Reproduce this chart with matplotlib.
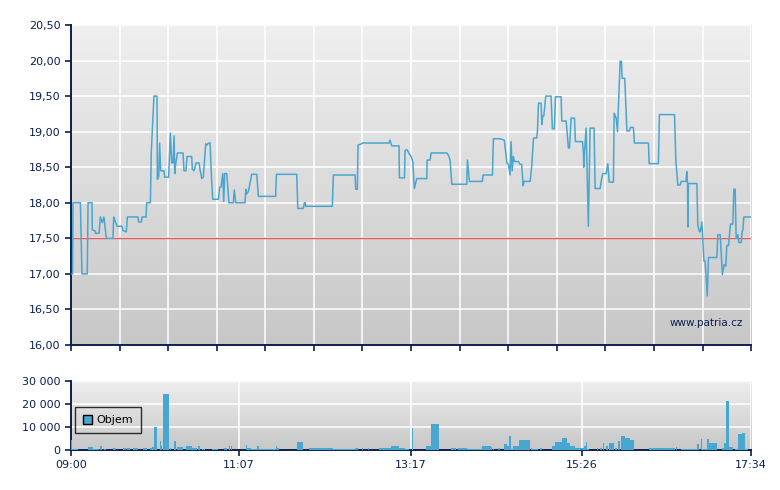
import matplotlib
matplotlib.use("Agg")
import matplotlib.pyplot as plt
import numpy as np
from matplotlib.colors import LinearSegmentedColormap
from matplotlib.patches import Patch

# intraday price, minutes after 09:00
price_t = [
    0, 1.2, 1.5, 7.1, 8.3, 12.3, 12.9, 15.9, 16.1, 18.4, 18.6, 21.2, 22.2, 23.7, 24.9, 26.7,
    31.7, 32.3, 33.0, 34.8, 35.5, 38.5, 39.3, 41.8, 42.6, 50.6, 51.1, 53.2, 53.7, 56.7, 57.2,
    60.0, 60.7, 62.7, 65.0, 65.3, 66.3, 67.0, 67.8, 70.3, 70.8, 73.8, 75.1, 76.1, 77.1, 77.9,
    78.4, 79.1, 80.4, 84.7, 85.4, 86.9, 87.7,
    91.2, 91.7, 93.0, 94.5, 96.8, 97.5, 98.8, 100.0, 101.8, 102.8, 103.8, 105.1, 106.3, 107.1,
    111.4, 112.4, 113.4, 114.7, 115.4, 116.2, 117.7, 119.4, 122.7, 123.4, 124.5, 131.5, 132.1,
    132.6, 134.1, 136.6, 140.4, 141.6, 154.7, 155.2, 170.6, 171.4,
    175.6, 176.4, 177.0, 177.4, 197.5, 198.3, 214.7, 215.2, 216.4, 216.9, 219.7, 220.5, 240.4,
    241.1, 242.4, 247.9, 248.2, 252.0, 252.5, 254.2, 255.3, 257.0, 258.3, 259.5,
    261.3, 268.9, 269.1, 271.4, 272.1, 284.0, 285.2, 286.5, 287.8, 299.1, 299.6, 301.1, 310.9,
    311.4, 318.5, 319.2, 324.3, 327.5, 329.4, 330.6, 331.8, 332.6, 333.4, 334.3, 335.1, 338.1,
    339.4, 340.6, 341.7, 342.4, 347.0, 348.3, 349.5,
    352.0, 352.5, 353.3, 355.3, 355.8, 356.5, 357.3, 358.8, 362.8, 363.8, 365.3, 366.1, 370.4,
    370.9, 374.2, 375.9, 376.7, 378.0, 380.5, 381.2, 386.5, 387.3, 387.5, 388.0, 389.3, 391.0,
    392.3, 395.3, 396.1, 399.9, 401.2, 401.9, 404.4, 405.7, 406.7, 409.9, 410.5, 412.0, 413.0,
    415.0, 416.0, 416.5, 418.5, 420.1, 422.0, 422.8, 425.0, 425.8, 436.4,
    436.9, 443.9, 444.7, 456.1, 457.1, 458.6, 460.4, 461.1, 464.7, 465.4, 465.9, 466.2, 466.6,
    473.0, 473.7, 474.9, 475.7, 476.7, 477.2, 478.3, 479.2, 480.8, 481.8, 488.1, 488.8, 490.6,
    492.3, 493.6, 494.9, 495.6, 496.9, 498.4, 500.2, 500.9, 501.9, 502.7, 504.0, 504.7, 506.5,
    507.2, 507.7, 508.5, 514.0,
]
price_v = [
    17.00, 17.00, 18.00, 18.00, 17.00, 17.00, 18.00, 18.00, 17.62, 17.60, 17.57, 17.57, 17.80,
    17.72, 17.80, 17.50, 17.50, 17.80, 17.76, 17.67, 17.67, 17.67, 17.61, 17.59, 17.80, 17.80,
    17.73, 17.73, 17.80, 17.80, 18.00, 18.00, 18.72, 19.50, 19.50, 18.33, 18.37, 18.84, 18.45,
    18.45, 18.36, 18.36, 18.98, 18.56, 18.56, 18.94, 18.41, 18.54, 18.70, 18.70, 18.45, 18.45,
    18.65,
    18.65, 18.47, 18.45, 18.56, 18.56, 18.47, 18.34, 18.36, 18.83, 18.81, 18.84, 18.84, 18.31,
    18.05, 18.05, 18.22, 18.22, 18.41, 18.02, 18.41, 18.41, 18.00, 18.00, 18.18, 18.00, 18.00,
    18.19, 18.12, 18.16, 18.40, 18.40, 18.09, 18.09, 18.40, 18.40, 17.92,
    17.92, 18.00, 18.00, 17.95, 17.95, 18.39, 18.39, 18.19, 18.19, 18.81, 18.83, 18.84, 18.84,
    18.88, 18.80, 18.80, 18.35, 18.35, 18.74, 18.74, 18.70, 18.65, 18.58, 18.20,
    18.34, 18.34, 18.60, 18.60, 18.70, 18.70, 18.67, 18.60, 18.26, 18.26, 18.60, 18.30, 18.30,
    18.39, 18.39, 18.90, 18.90, 18.88, 18.56, 18.54, 18.39, 18.86, 18.45, 18.65, 18.58, 18.58,
    18.54, 18.54, 18.24, 18.30, 18.30, 18.54, 18.91,
    18.91, 19.00, 19.40, 19.40, 19.10, 19.22, 19.22, 19.50, 19.50, 19.04, 19.04, 19.49, 19.49,
    19.15, 19.15, 18.77, 18.77, 19.19, 19.19, 18.86, 18.86, 18.69, 18.50, 18.69, 19.05, 17.67,
    19.05, 19.05, 18.20, 18.20, 18.36, 18.41, 18.41, 18.55, 18.29, 18.29, 19.26, 19.19, 19.00,
    19.99, 19.99, 19.75, 19.75, 19.01, 19.01, 19.06, 19.06, 18.84, 18.84,
    18.55, 18.55, 19.24, 19.24, 18.59, 18.25, 18.25, 18.30, 18.30, 18.44, 18.27, 17.66, 18.27,
    18.27, 17.69, 17.59, 17.60, 17.73, 17.59, 17.18, 17.18, 16.69, 17.23, 17.23, 17.55, 17.55,
    16.99, 17.13, 17.11, 17.40, 17.40, 17.70, 17.70, 18.19, 18.19, 17.50, 17.55, 17.44, 17.44,
    17.60, 17.61, 17.80, 17.80,
]
prev_close = 17.50

# traded volume per interval (start/end in minutes after 09:00)
vol_start = [
    0.0, 0.75, 12.6, 16.4, 19.4, 21.9, 24.9, 32.0, 39.5, 42.1, 46.6, 47.1, 54.7, 59.7, 61.0,
    62.7, 65.5, 67.3, 68.0, 69.5, 75.1, 77.9, 79.9, 86.9, 91.2, 96.2, 98.8, 105.6, 106.3, 115.7,
    119.7, 121.2, 125.3, 132.3, 132.8, 135.8, 140.4, 141.9, 155.0, 156.0, 170.8, 180.1, 198.3,
    214.7, 219.7, 223.5, 224.5, 232.8, 241.7, 248.2, 252.5, 257.5, 268.4, 271.9, 287.2, 292.3,
    299.1, 300.9, 310.4, 317.5, 319.2, 323.0, 327.3, 329.4, 330.9, 332.4, 334.4, 338.6, 347.5,
    348.5, 354.5, 363.3, 365.9, 370.9, 374.7, 377.2, 381.0, 387.8, 389.3, 389.8, 397.4, 399.9,
    401.9, 404.4, 406.7, 411.2, 413.7, 415.5, 418.8, 422.6, 436.7, 457.3, 461.1, 465.4, 465.9,
    473.0, 476.0, 477.2, 481.0, 481.8, 491.9, 493.6, 495.1, 497.6, 501.9, 504.0, 507.0, 509.0,
]
vol_end = [
    0.75, 5.5, 16.4, 19.4, 21.4, 23.4, 26.5, 34.0, 41.6, 44.6, 47.1, 50.9, 57.2, 61.0, 62.5,
    64.8, 66.0, 67.8, 68.8, 73.8, 75.6, 79.1, 84.4, 91.2, 95.0, 97.5, 101.3, 106.1, 111.4, 117.7,
    120.2, 121.7, 125.7, 132.8, 135.8, 140.4, 141.9, 155.0, 156.0, 157.0, 175.6, 198.3, 214.7,
    217.2, 220.5, 224.0, 225.0, 241.7, 248.2, 252.5, 255.7, 258.8, 271.9, 278.2, 290.8, 299.1,
    300.9, 310.4, 317.5, 318.5, 319.7, 324.3, 329.4, 330.9, 332.4, 334.4, 338.6, 347.0, 348.5,
    353.3, 356.0, 365.9, 370.9, 374.7, 377.2, 381.0, 387.8, 389.3, 389.8, 391.8, 397.9, 401.1,
    403.1, 406.2, 410.5, 412.5, 415.0, 418.8, 422.6, 425.6, 456.6, 458.3, 465.4, 465.9, 473.0,
    474.7, 477.2, 480.5, 481.8, 488.1, 493.6, 495.1, 497.6, 500.6, 504.0, 507.0, 509.0, 512.0,
]
vol_value = [
    4300, 430, 1300, 580, 430, 1700, 430, 720, 860, 860, 1700, 860, 860, 1000, 1400,
    9950, 8400, 3900, 1700, 24400, 1000, 3900, 1300, 1700, 860, 1700, 580, 1300, 430, 860,
    1700, 1700, 430, 2300, 860, 430, 1700, 430, 1600, 860, 3600, 860, 430,
    860, 1000, 1000, 1000, 860, 1700, 860, 430, 9500, 1700, 11200, 860, 860,
    430, 430, 1700, 1150, 430, 1000, 2600, 1700, 6000, 430, 1700, 4300, 860,
    430, 860, 1700, 3600, 5300, 2900, 1700, 860, 1700, 3600, 430, 1000, 1000,
    3200, 1700, 3200, 860, 3900, 6000, 5300, 4200, 860, 1150, 430, 5300, 430,
    2600, 4800, 430, 4600, 3200, 860, 3000, 21200, 1400, 430, 6900, 7200, 430,
]

time_labels = ["09:00", "11:07", "13:17", "15:26", "17:34"]
volume_ticks = [0, 10000, 20000, 30000]
price_ticks = np.arange(16.0, 20.51, 0.5)

NAVY = "#0b1f4f"
LINE = "#4aa5d0"
BAR = "#48a7d0"
bg_cmap = LinearSegmentedColormap.from_list("bg", ["#c7c7c7", "#efefef"])


def minutes(label):
    h, m = label.split(":")
    return (int(h) - 9) * 60 + int(m)


t_end = minutes(time_labels[-1])


def style_axes(ax):
    ax.imshow(np.linspace(0, 1, 256).reshape(-1, 1), cmap=bg_cmap, aspect="auto",
              extent=[0, 1, 0, 1], transform=ax.transAxes, origin="lower", zorder=-5)
    ax.set_axisbelow(True)
    ax.grid(True, color="white", linewidth=1.1)
    for side in ("top", "right"):
        ax.spines[side].set_visible(False)
    for side in ("left", "bottom"):
        ax.spines[side].set_color(NAVY)
        ax.spines[side].set_linewidth(1.4)
    ax.tick_params(colors=NAVY, labelcolor=NAVY, direction="out", length=4, width=1.2,
                   labelsize=8)


fig = plt.figure(figsize=(7.8, 4.9), dpi=100)
fig.patch.set_facecolor("white")

ax = fig.add_axes([0.091, 0.296, 0.872, 0.653])
style_axes(ax)
ax.plot(price_t, price_v, color=LINE, linewidth=1.1, zorder=3)
ax.axhline(prev_close, color="#e05a5a", linewidth=1.0, zorder=2)
ax.set_xlim(0, t_end)
ax.set_ylim(16.0, 20.5)
ax.set_xticks(np.linspace(0, t_end, 15))
ax.set_xticklabels([])
ax.set_yticks(price_ticks)
ax.set_yticklabels([f"{v:.2f}".replace(".", ",") for v in price_ticks])
ax.text(0.988, 0.069, "www.patria.cz", transform=ax.transAxes, ha="right", va="center",
        color=NAVY, fontsize=7.5)

axv = fig.add_axes([0.091, 0.0816, 0.872, 0.1415])
style_axes(axv)
axv.bar(vol_start, vol_value, width=np.array(vol_end) - np.array(vol_start), align="edge",
        color=BAR, linewidth=0, zorder=3)
axv.set_xlim(0, t_end)
axv.set_ylim(0, 30000)
axv.set_xticks([minutes(s) for s in time_labels])
axv.set_xticklabels(time_labels)
axv.set_yticks(volume_ticks)
axv.set_yticklabels([f"{v:,}".replace(",", " ") for v in volume_ticks])
leg = axv.legend(handles=[Patch(facecolor=BAR, edgecolor="black", label="Objem")],
                 loc="lower left", bbox_to_anchor=(0.006, 0.245), fontsize=8,
                 frameon=True, fancybox=False, handlelength=0.8, handleheight=0.8,
                 handletextpad=0.4, borderpad=0.7, borderaxespad=0)
leg.get_frame().set_edgecolor("black")
leg.get_frame().set_facecolor("none")
leg.get_frame().set_linewidth(1.0)

fig.savefig("out.png", dpi=100)
